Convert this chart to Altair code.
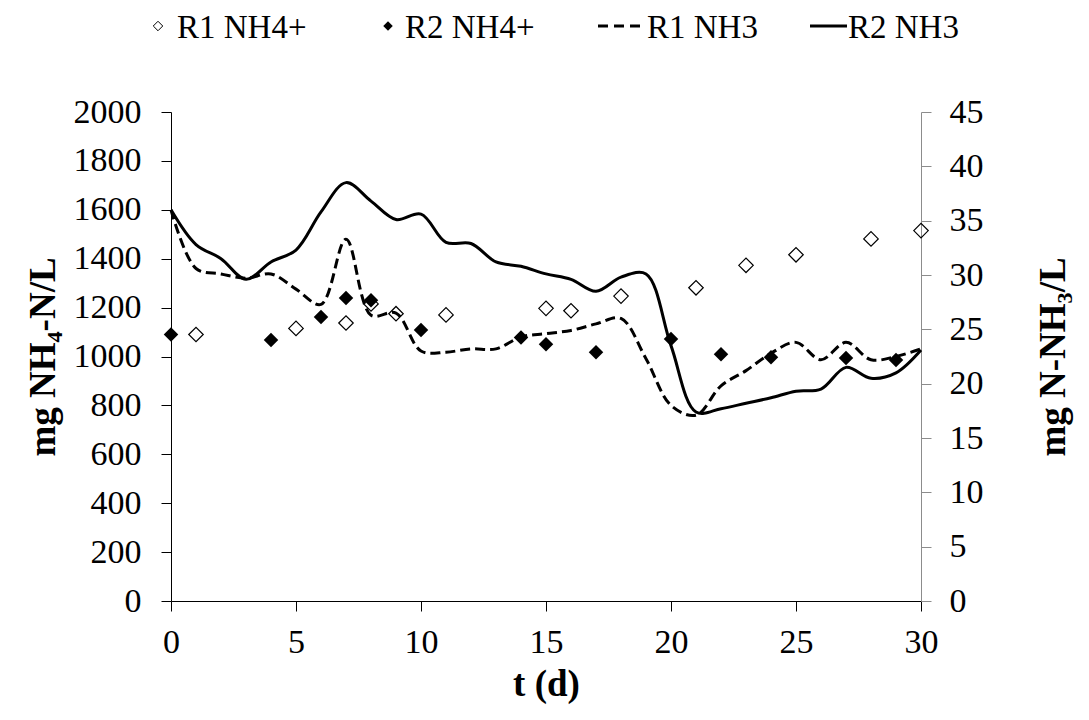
import altair as alt
import pandas as pd

# ---- data ----
days = list(range(31))
r1_nh3 = [36.0, 30.6, 30.1, 29.7, 30.1, 28.7, 27.3, 33.3, 26.3, 26.5, 23.0,
          22.9, 23.2, 23.2, 24.3, 24.6, 24.9, 25.5, 26.0, 22.3, 18.0,
          17.1, 19.8, 21.2, 22.8, 23.8, 22.2, 23.8, 22.2, 22.5, 23.2]
r2_nh3 = [36.0, 32.8, 31.5, 29.6, 31.2, 32.3, 35.8, 38.5, 36.8, 35.1, 35.6,
          33.0, 32.9, 31.2, 30.8, 30.1, 29.6, 28.5, 29.8, 30.1, 23.5,
          17.4, 17.7, 18.2, 18.7, 19.3, 19.5, 21.5, 20.5, 21.0, 23.1]

r1_nh4_days = [1, 5, 7, 8, 9, 11, 15, 16, 18, 21, 23, 25, 28, 30]
r1_nh4 = [1090, 1115, 1137, 1215, 1175, 1170, 1197, 1187, 1247, 1281, 1373, 1416, 1481, 1515]
r2_nh4_days = [0, 4, 6, 7, 8, 10, 14, 15, 17, 20, 22, 24, 27, 29]
r2_nh4 = [1090, 1067, 1162, 1239, 1230, 1108, 1078, 1050, 1017, 1072, 1009, 997, 994, 986]

x_ticks = [0, 5, 10, 15, 20, 25, 30]
left_ticks = list(range(0, 2001, 200))
right_ticks = list(range(0, 46, 5))
legend_labels = ["R1 NH4+", "R2 NH4+", "R1 NH3", "R2 NH3"]

FONT = "Liberation Serif"
FS = 34
LFS = 33
TFS = 37

df_r1p = pd.DataFrame({"t": r1_nh4_days, "v": r1_nh4})
df_r2p = pd.DataFrame({"t": r2_nh4_days, "v": r2_nh4})
df_r1l = pd.DataFrame({"t": days, "v": r1_nh3})
df_r2l = pd.DataFrame({"t": days, "v": r2_nh3})
dummy = pd.DataFrame({"a": [0]})

X = alt.X("t:Q",
          scale=alt.Scale(domain=[0, 30], nice=False, zero=False),
          axis=alt.Axis(values=x_ticks, title="t (d)", grid=False, format="d",
                        domainColor="black", tickColor="black", tickSize=10,
                        labelPadding=14, titlePadding=7,
                        labelFont=FONT, labelFontSize=FS, labelColor="black",
                        titleFont=FONT, titleFontSize=TFS, titleFontWeight="bold",
                        titleColor="black", labelFlush=False))

left_axis = alt.Axis(values=left_ticks, title="mg NH\u2084-N/L", grid=False, format="d",
                     domainColor="black", tickColor="black", tickSize=10,
                     labelPadding=20, titlePadding=11,
                     labelFont=FONT, labelFontSize=FS, labelColor="black",
                     titleFont=FONT, titleFontSize=TFS, titleFontWeight="bold",
                     titleColor="black", labelFlush=False)
YL = alt.Y("v:Q", scale=alt.Scale(domain=[0, 2000], nice=False), axis=left_axis)

right_axis = alt.Axis(values=right_ticks, title="mg N-NH\u2083/L", grid=False, orient="right",
                      format="d",
                      domainColor="#8c8c8c", tickColor="#8c8c8c", tickSize=10,
                      labelPadding=18, titlePadding=52, titleAngle=270, titleBaseline="top",
                      labelFont=FONT, labelFontSize=FS, labelColor="black",
                      titleFont=FONT, titleFontSize=TFS, titleFontWeight="bold",
                      titleColor="black", labelFlush=False)
YR = alt.Y("v:Q", scale=alt.Scale(domain=[0, 45], nice=False), axis=right_axis)

p1 = alt.Chart(df_r1p).mark_point(shape="diamond", filled=False, stroke="black",
                                   strokeWidth=1.2, size=210, opacity=1).encode(x=X, y=YL)
p2 = alt.Chart(df_r2p).mark_point(shape="diamond", filled=True, fill="black",
                                   size=210, opacity=1).encode(x=X, y=YL)

l1 = alt.Chart(df_r1l).mark_line(color="black", strokeWidth=3, strokeDash=[10, 5],
                                 interpolate="catmull-rom").encode(x=X, y=YR)
l2 = alt.Chart(df_r2l).mark_line(color="black", strokeWidth=3,
                                 interpolate="catmull-rom").encode(x=X, y=YR)

left = alt.layer(p1, p2)
right = alt.layer(l1, l2)

# ---- manual legend above the plot ----
ly = -86
lt = -74
leg = [
    alt.Chart(dummy).mark_point(shape="diamond", filled=False, stroke="black", strokeWidth=1,
                                size=90, opacity=1).encode(x=alt.value(-13), y=alt.value(ly)),
    alt.Chart(dummy).mark_text(font=FONT, fontSize=LFS, align="left", baseline="alphabetic",
                               color="black").encode(x=alt.value(6), y=alt.value(lt),
                                                     text=alt.value(legend_labels[0])),
    alt.Chart(dummy).mark_point(shape="diamond", filled=True, fill="black",
                                size=90, opacity=1).encode(x=alt.value(217), y=alt.value(ly)),
    alt.Chart(dummy).mark_text(font=FONT, fontSize=LFS, align="left", baseline="alphabetic",
                               color="black").encode(x=alt.value(234), y=alt.value(lt),
                                                     text=alt.value(legend_labels[1])),
    alt.Chart(dummy).mark_rule(color="black", strokeWidth=3, strokeDash=[10, 6]).encode(
        x=alt.value(427), x2=alt.value(471), y=alt.value(ly)),
    alt.Chart(dummy).mark_text(font=FONT, fontSize=LFS, align="left", baseline="alphabetic",
                               color="black").encode(x=alt.value(476), y=alt.value(lt),
                                                     text=alt.value(legend_labels[2])),
    alt.Chart(dummy).mark_rule(color="black", strokeWidth=3).encode(
        x=alt.value(639), x2=alt.value(676), y=alt.value(ly)),
    alt.Chart(dummy).mark_text(font=FONT, fontSize=LFS, align="left", baseline="alphabetic",
                               color="black").encode(x=alt.value(677), y=alt.value(lt),
                                                     text=alt.value(legend_labels[3])),
]

chart = alt.layer(left, right, *leg).resolve_scale(y="independent").properties(
    width=750, height=489,
    autosize=alt.AutoSizeParams(type="none"),
    padding={"left": 163, "top": 104, "right": 160, "bottom": 111},
    background="white",
).configure_view(strokeWidth=0)

chart.save("out.html", embed_options={"renderer": "svg", "actions": False})
